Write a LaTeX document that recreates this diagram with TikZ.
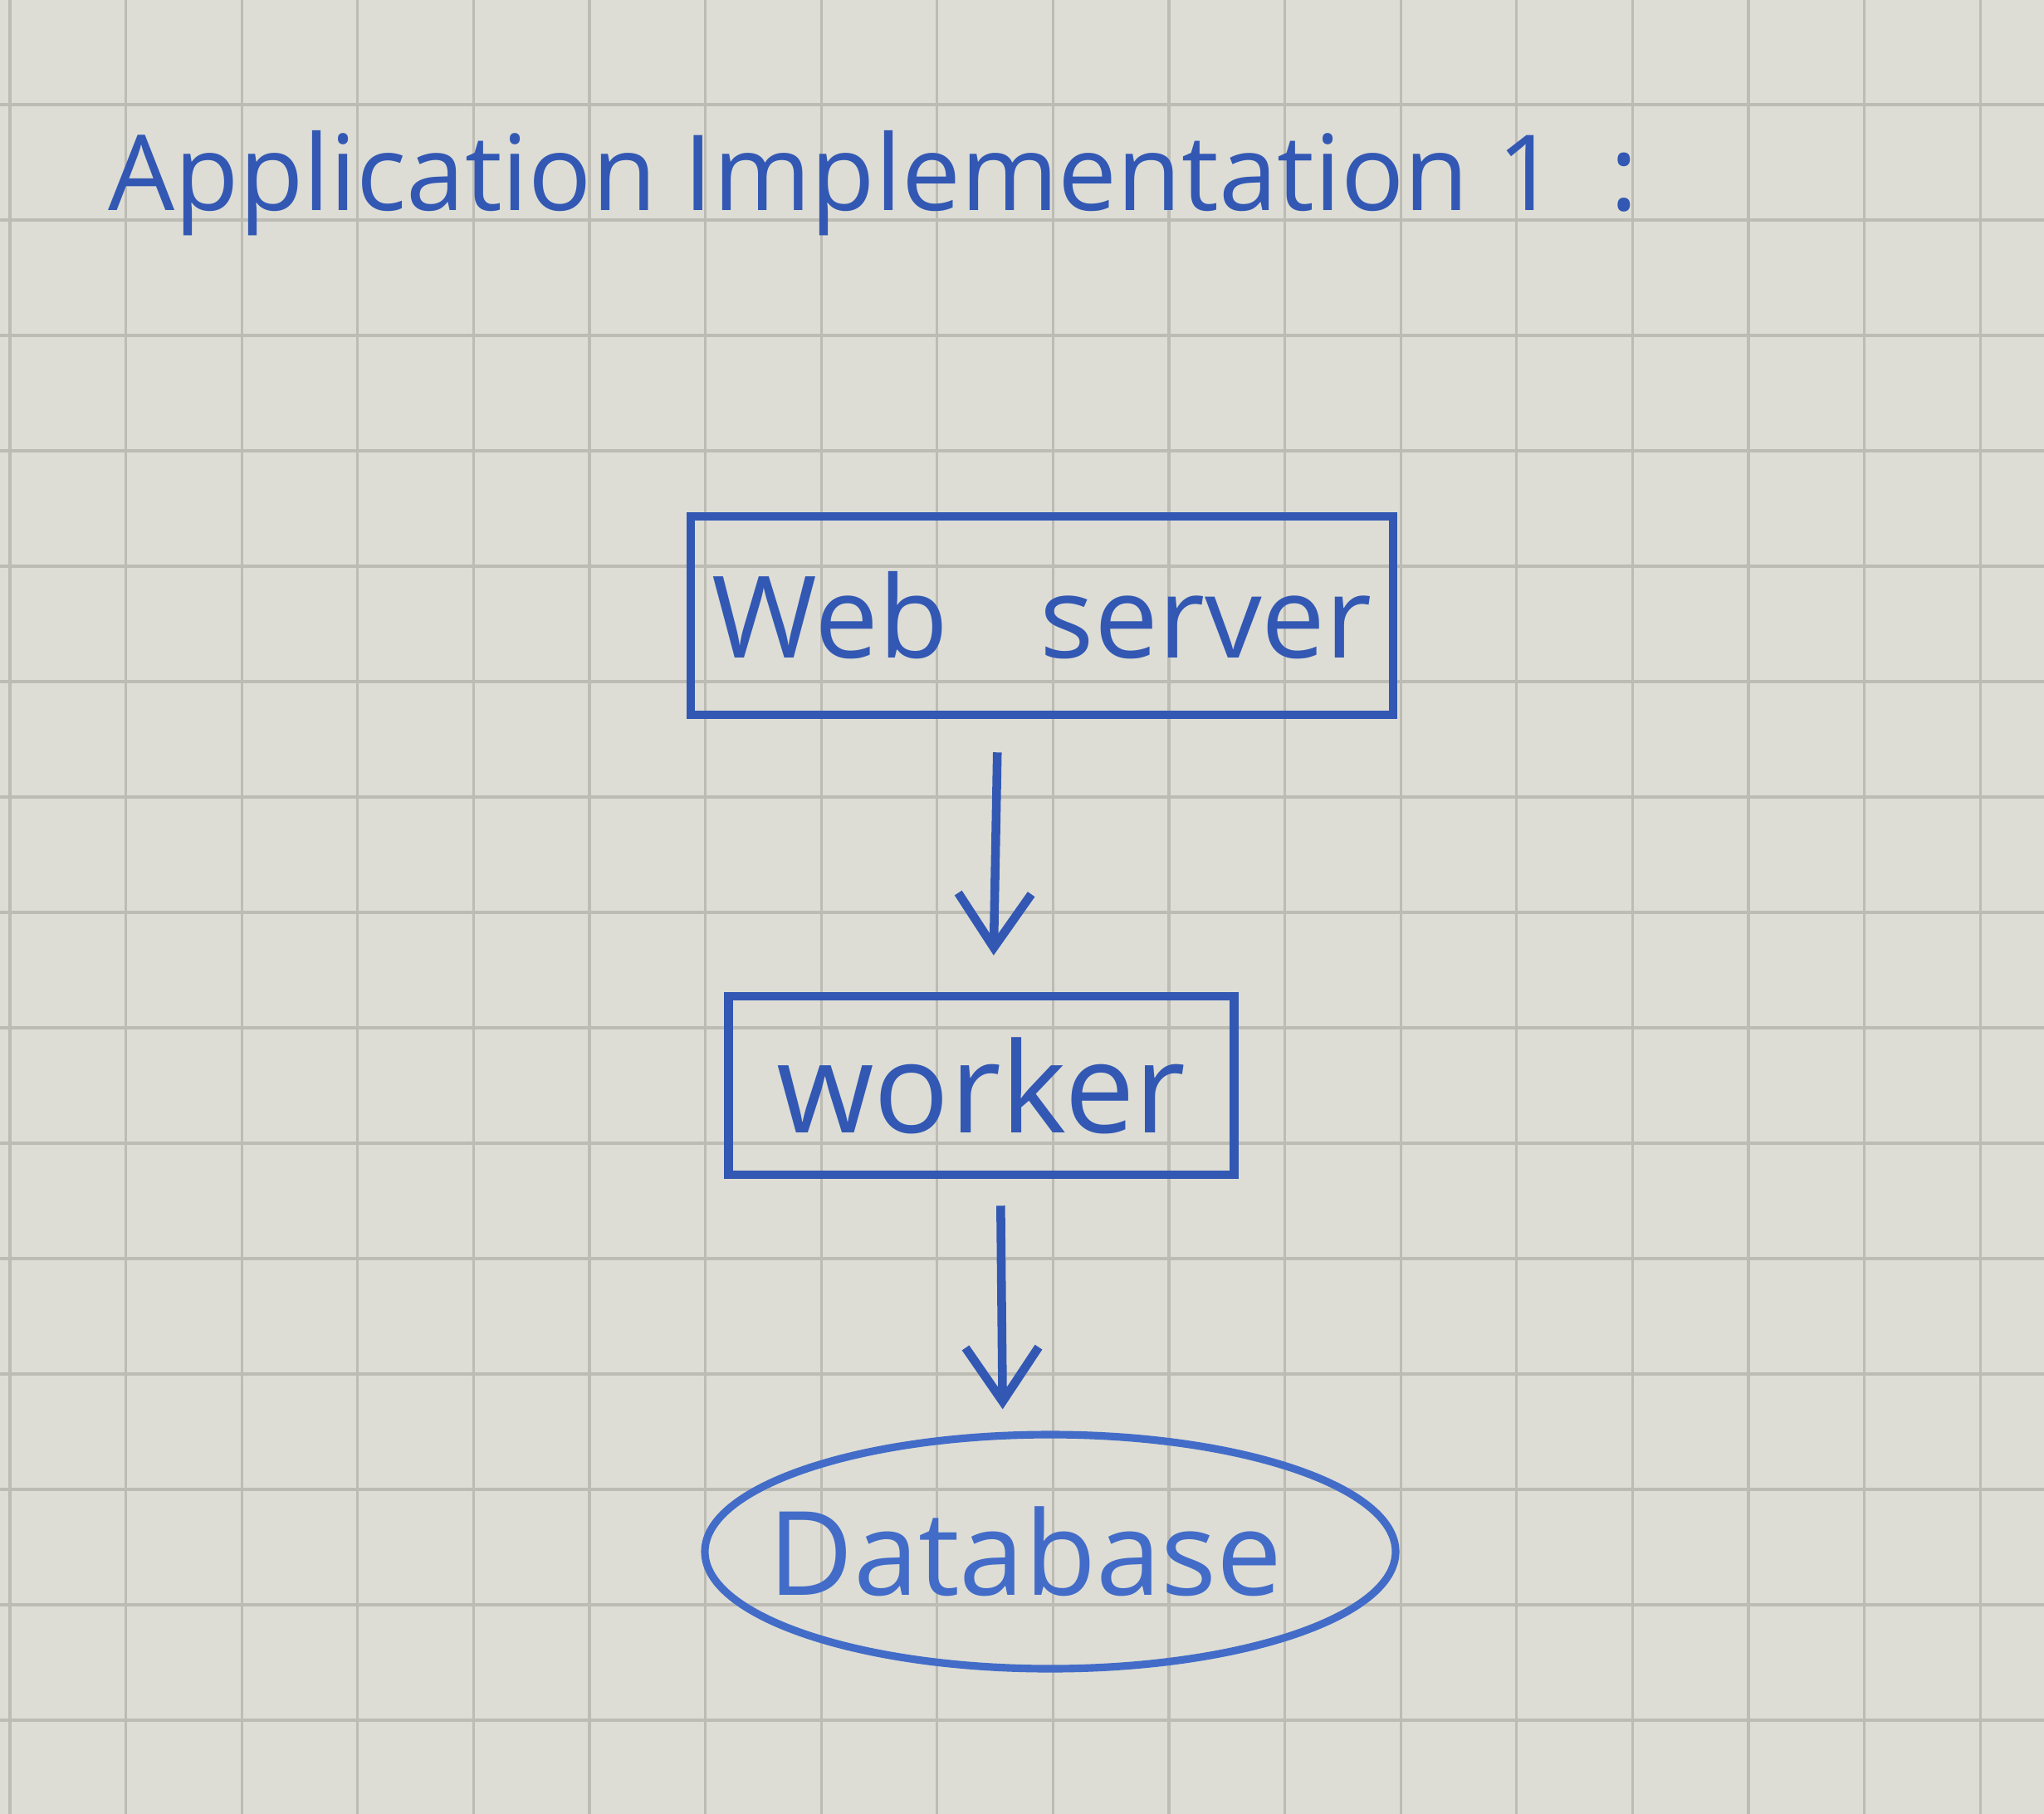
\documentclass[tikz,border=0pt]{standalone}
\usepackage{fontspec}
\setmainfont{Open Sans}
\usetikzlibrary{shapes.geometric,arrows.meta}
\definecolor{paper}{RGB}{221,221,213}
\definecolor{gridline}{RGB}{188,188,180}
\definecolor{ink}{RGB}{50,88,180}
\definecolor{inklight}{RGB}{66,108,200}
\begin{document}
\begin{tikzpicture}[
  box/.style={draw=ink, line width=3pt, rectangle, inner sep=0pt, text=ink},
  store/.style={draw=inklight, line width=2.6pt, ellipse, inner sep=0pt, minimum width=8.32cm, minimum height=2.82cm},
  flow/.style={draw=ink, line width=3pt, -{Straight Barb[length=6.5mm,width=8.8mm]}},
  squares/.style={draw=gridline, line width=0.9pt}
]
\useasboundingbox (0,0) rectangle (24.62,-21.85);
\fill[paper] (0,0) rectangle (24.62,-21.85);
\foreach \i in {0,...,17}
  \path[squares] (0.12+1.396*\i,0) -- (0.12+1.396*\i,-21.85);
\foreach \j in {0,...,14}
  \path[squares] (0,-1.26-1.39*\j) -- (24.62,-1.26-1.39*\j);
\node[text=ink, font=\fontsize{36}{40}\selectfont, anchor=base west] (title) at (1.18,-2.53) {Application Implementation\hspace{0.34cm}1\hspace{0.64cm}:};
\node[box, minimum width=8.46cm, minimum height=2.39cm, font=\fontsize{39}{44}\selectfont] (web) at (12.55,-7.415) {Web \hspace{0.75cm}server};
\node[box, minimum width=6.09cm, minimum height=2.15cm, font=\fontsize{43}{48}\selectfont] (worker) at (11.82,-13.075) {worker};
\node[store, label={[text=inklight, font=\fontsize{40}{44}\selectfont, xshift=-0.3cm]center:Database}] (db) at (12.65,-18.69) {};
\path[flow, shorten <=0.4cm, shorten >=0.44cm] ([xshift=-0.53cm]web.south) -- ([xshift=0.14cm]worker.north);
\path[flow, shorten <=0.32cm, shorten >=0.26cm] ([xshift=0.23cm]worker.south) -- ([xshift=-0.57cm]db.north);
\end{tikzpicture}
\end{document}
